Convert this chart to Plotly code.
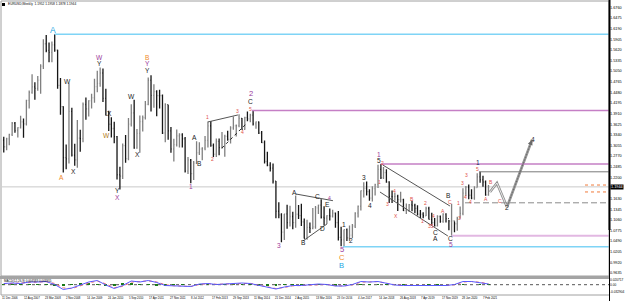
import plotly.graph_objects as go
import pandas as pd

# ---------------------------------------------------------------- data
bar_months = pd.date_range("2006-12-01", "2021-04-01", freq="MS")
first_open = 1.3270
high = [
    1.3367,
    1.3290, 1.3260, 1.3372, 1.3682, 1.3683, 1.3541, 1.3853, 1.3780, 1.4281, 1.4527, 1.4967, 1.4752,
    1.4920, 1.5237, 1.5904, 1.6019, 1.5818, 1.5844, 1.6038, 1.5626, 1.4867, 1.4110, 1.3080, 1.4720,
    1.4070, 1.3100, 1.3738, 1.3480, 1.4210, 1.4340, 1.4270, 1.4445, 1.4845, 1.5060, 1.5145, 1.5120,
    1.4580, 1.3990, 1.3815, 1.3690, 1.3310, 1.2485, 1.3110, 1.3335, 1.3790, 1.4160, 1.4280, 1.3500,
    1.3860, 1.3860, 1.4250, 1.4880, 1.4940, 1.4700, 1.4540, 1.4550, 1.4420, 1.4190, 1.4150, 1.3550,
    1.3235, 1.3485, 1.3385, 1.3385, 1.3285, 1.2745, 1.2690, 1.2640, 1.3170, 1.3140, 1.3010, 1.3310,
    1.3700, 1.3710, 1.3110, 1.3240, 1.3240, 1.3415, 1.3345, 1.3450, 1.3570, 1.3830, 1.3620, 1.3895,
    1.3790, 1.3825, 1.3967, 1.3905, 1.3993, 1.3700, 1.3700, 1.3445, 1.3190, 1.2885, 1.2605, 1.2570,
    1.2100, 1.1535, 1.1240, 1.1215, 1.1465, 1.1435, 1.1280, 1.1715, 1.1460, 1.1495, 1.1095, 1.1060,
    1.0990, 1.1375, 1.1430, 1.1465, 1.1615, 1.1425, 1.1185, 1.1365, 1.1330, 1.1255, 1.1300, 1.0875,
    1.0800, 1.0830, 1.0905, 1.0950, 1.1265, 1.1445, 1.1845, 1.2070, 1.2090, 1.1880, 1.1960, 1.2025,
    1.2535, 1.2555, 1.2475, 1.2415, 1.2095, 1.1850, 1.1790, 1.1735, 1.1815, 1.1625, 1.1500, 1.1485,
    1.1570, 1.1490, 1.1450, 1.1325, 1.1265, 1.1410, 1.1410, 1.1250, 1.1110, 1.1180, 1.1175, 1.1240,
    1.1240, 1.1055, 1.1495, 1.1015, 1.1145, 1.1420, 1.1910, 1.1965, 1.2010, 1.1880, 1.1960, 1.2310,
    1.2349, 1.2245, 1.2115, 1.1995,
]
low = [
    1.3100,
    1.2866, 1.2928, 1.3060, 1.3310, 1.3398, 1.3268, 1.3509, 1.3262, 1.3592, 1.4050, 1.4445, 1.4284,
    1.4525, 1.4440, 1.5110, 1.5555, 1.5285, 1.5287, 1.5570, 1.4580, 1.3880, 1.2330, 1.2420, 1.2570,
    1.2760, 1.2510, 1.2457, 1.2885, 1.3140, 1.3745, 1.3830, 1.4045, 1.4200, 1.4480, 1.4630, 1.4220,
    1.3860, 1.3445, 1.3270, 1.3115, 1.2145, 1.1876, 1.2155, 1.2590, 1.2660, 1.3565, 1.2970, 1.2970,
    1.2860, 1.3430, 1.3750, 1.4135, 1.3970, 1.4070, 1.3840, 1.4050, 1.3360, 1.3145, 1.3210, 1.2860,
    1.2625, 1.3030, 1.3000, 1.3000, 1.2330, 1.2290, 1.2042, 1.2130, 1.2560, 1.2800, 1.2660, 1.2925,
    1.3000, 1.3020, 1.2745, 1.2745, 1.2795, 1.2970, 1.2755, 1.3185, 1.3105, 1.3480, 1.3295, 1.3545,
    1.3475, 1.3475, 1.3705, 1.3675, 1.3590, 1.3505, 1.3365, 1.3120, 1.2570, 1.2500, 1.2360, 1.2035,
    1.1100, 1.1100, 1.0462, 1.0520, 1.0820, 1.0880, 1.0810, 1.0850, 1.1085, 1.0895, 1.0560, 1.0525,
    1.0710, 1.0810, 1.0820, 1.1215, 1.1095, 1.0910, 1.0950, 1.1045, 1.1120, 1.0850, 1.0505, 1.0350,
    1.0340, 1.0495, 1.0495, 1.0570, 1.0840, 1.1120, 1.1310, 1.1660, 1.1715, 1.1575, 1.1555, 1.1715,
    1.1915, 1.2155, 1.2155, 1.2055, 1.1510, 1.1510, 1.1575, 1.1300, 1.1525, 1.1300, 1.1215, 1.1270,
    1.1290, 1.1235, 1.1175, 1.1110, 1.1105, 1.1160, 1.1070, 1.0925, 1.0880, 1.0880, 1.0980, 1.0980,
    1.0990, 1.0780, 1.0636, 1.0725, 1.0765, 1.1095, 1.1185, 1.1695, 1.1610, 1.1610, 1.1600, 1.1925,
    1.2055, 1.1950, 1.1705, 1.1705,
]
close = [
    1.3199,
    1.3021, 1.3232, 1.3354, 1.3651, 1.3452, 1.3532, 1.3690, 1.3637, 1.4264, 1.4482, 1.4628, 1.4588,
    1.4810, 1.5183, 1.5785, 1.5608, 1.5552, 1.5753, 1.5615, 1.4669, 1.4097, 1.2730, 1.2695, 1.3970,
    1.2795, 1.2670, 1.3250, 1.3240, 1.4155, 1.4035, 1.4255, 1.4335, 1.4635, 1.4720, 1.5000, 1.4320,
    1.3865, 1.3625, 1.3510, 1.3295, 1.2270, 1.2235, 1.3050, 1.2705, 1.3630, 1.3930, 1.2985, 1.3380,
    1.3695, 1.3800, 1.4160, 1.4805, 1.4400, 1.4500, 1.4390, 1.4390, 1.3390, 1.4150, 1.3445, 1.2960,
    1.3080, 1.3315, 1.3340, 1.3235, 1.2365, 1.2665, 1.2300, 1.2580, 1.2860, 1.2960, 1.2985, 1.3190,
    1.3580, 1.3060, 1.2820, 1.3165, 1.2995, 1.3010, 1.3300, 1.3220, 1.3525, 1.3585, 1.3590, 1.3780,
    1.3485, 1.3805, 1.3770, 1.3870, 1.3635, 1.3690, 1.3390, 1.3130, 1.2630, 1.2525, 1.2450, 1.2100,
    1.1290, 1.1195, 1.0730, 1.1220, 1.0985, 1.1150, 1.0985, 1.1210, 1.1175, 1.1005, 1.0565, 1.0860,
    1.0830, 1.0870, 1.1380, 1.1455, 1.1130, 1.1105, 1.1175, 1.1160, 1.1240, 1.0985, 1.0590, 1.0520,
    1.0795, 1.0575, 1.0650, 1.0895, 1.1240, 1.1425, 1.1840, 1.1905, 1.1815, 1.1645, 1.1900, 1.2005,
    1.2415, 1.2195, 1.2325, 1.2075, 1.1690, 1.1685, 1.1690, 1.1600, 1.1605, 1.1310, 1.1315, 1.1465,
    1.1445, 1.1370, 1.1215, 1.1215, 1.1170, 1.1370, 1.1075, 1.0985, 1.0900, 1.1150, 1.1020, 1.1215,
    1.1090, 1.1025, 1.1030, 1.0955, 1.1100, 1.1235, 1.1775, 1.1935, 1.1720, 1.1645, 1.1925, 1.2215,
    1.2135, 1.2075, 1.1730, 1.1944,
]
last_price = 1.1944
title_text = "EURUSD,Weekly  1.1952 1.1958 1.1878 1.1944"

price_ticks = [1.6760, 1.6475, 1.6190, 1.5905, 1.5620, 1.5335, 1.5050, 1.4765, 1.4480,
               1.4195, 1.3910, 1.3625, 1.3340, 1.3055, 1.2770, 1.2485, 1.2200, 1.1915,
               1.1630, 1.1345, 1.1060, 1.0775, 1.0490, 1.0205, 0.9920, 0.9635]

date_labels = ["11 Dec 2006", "12 Aug 2007", "23 Mar 2008", "2 Nov 2008", "14 Jun 2009",
               "24 Jan 2010", "5 Sep 2010", "17 Apr 2011", "27 Nov 2011", "8 Jul 2012",
               "17 Feb 2013", "29 Sep 2013", "11 May 2014", "21 Dec 2014", "2 Aug 2015",
               "13 Mar 2016", "23 Oct 2016", "4 Jun 2017", "14 Jan 2018", "26 Aug 2018",
               "7 Apr 2019", "17 Nov 2019", "28 Jun 2020", "7 Feb 2021"]

# indicator (quarterly readings)
ind_dates = pd.date_range("2007-01-01", periods=58, freq="3MS") + pd.Timedelta(days=14)
ind_main = [0.0056, 0.0080, 0.0056, 0.0127, 0.0127, 0.0150, 0.0009, -0.0226, -0.0155, -0.0014,
            0.0127, 0.0197, -0.0014, -0.0179, -0.0038, 0.0174, 0.0127, 0.0197, 0.0103, -0.0038,
            -0.0061, -0.0085, -0.0085, 0.0033, 0.0056, 0.0009, 0.0033, 0.0080, 0.0080, 0.0056,
            -0.0038, -0.0132, -0.0202, -0.0108, -0.0038, -0.0038, -0.0014, 0.0033, 0.0009, -0.0061,
            -0.0061, 0.0009, 0.0150, 0.0127, 0.0150, 0.0056, -0.0014, -0.0038, -0.0038, -0.0038,
            -0.0061, -0.0038, -0.0038, 0.0009, 0.0150, 0.0150, 0.0103, 0.0033]
ind_signal = [0.0040, 0.0065, 0.0068, 0.0095, 0.0120, 0.0140, 0.0060, -0.0150, -0.0185, -0.0060,
              0.0080, 0.0170, 0.0040, -0.0140, -0.0080, 0.0120, 0.0140, 0.0180, 0.0130, 0.0000,
              -0.0050, -0.0075, -0.0085, 0.0010, 0.0045, 0.0020, 0.0030, 0.0065, 0.0078, 0.0062,
              -0.0020, -0.0110, -0.0180, -0.0130, -0.0055, -0.0040, -0.0020, 0.0020, 0.0012, -0.0045,
              -0.0060, -0.0010, 0.0120, 0.0130, 0.0145, 0.0070, 0.0000, -0.0030, -0.0038, -0.0038,
              -0.0055, -0.0042, -0.0038, -0.0005, 0.0125, 0.0150, 0.0115, 0.0045]
ind_hist = [0.0016, 0.0015, -0.0012, 0.0032, 0.0007, 0.0010, -0.0051, -0.0076, 0.0030, 0.0046,
            0.0047, 0.0027, -0.0054, -0.0039, 0.0042, 0.0054, -0.0013, 0.0017, -0.0027, -0.0038,
            -0.0011, -0.0010, 0.0000, 0.0023, 0.0011, -0.0011, 0.0003, 0.0015, 0.0002, -0.0006,
            -0.0018, -0.0022, -0.0022, 0.0022, 0.0017, 0.0002, 0.0006, 0.0013, -0.0003, -0.0016,
            -0.0001, 0.0019, 0.0030, -0.0003, 0.0005, -0.0014, -0.0014, -0.0008, 0.0000, 0.0000,
            -0.0006, 0.0004, 0.0000, 0.0014, 0.0025, 0.0000, -0.0012, -0.0012]
ind_header = "MACD(12,26,9) 0.004583 0.003955"
ind_tick_vals = [0.0207, 0.0, -0.0329]
ind_tick_text = ["0.020717", "0.00", "-0.032904"]

# wave labels: text, date, price, colour key, size key
wave_text = ["A", "W", "Y", "B", "Y", "Y", "W", "W", "X", "W", "X", "A", "X", "Y", "X",
             "A", "1", "B", "2", "1", "3", "4", "2", "C", "5",
             "3", "A", "B", "C", "D", "E", "4", "1", "2", "5", "C", "B",
             "3", "4", "1", "5", "1", "3", "4", "X", "2",
             "B", "2", "1", "4", "35", "C", "A", "A", "B", "C", "1", "3", "C", "5",
             "4", "4", "3", "3", "1", "5", "A", "B", "C", "2", "4"]
wave_date = ["2008-06-30", "2009-11-13", "2009-11-13", "2011-04-12", "2011-04-12", "2011-04-12",
             "2008-12-04", "2010-10-22", "2010-02-28", "2010-01-27", "2010-12-26", "2008-10-01",
             "2009-02-07", "2010-05-20", "2010-05-20",
             "2012-08-29", "2012-07-17", "2012-10-21", "2013-03-09", "2013-01-15", "2013-12-03",
             "2014-01-26", "2014-04-22", "2014-04-22", "2014-04-22",
             "2015-02-16", "2015-08-07", "2015-11-12", "2016-04-10", "2016-06-03", "2016-07-27",
             "2016-08-07", "2017-01-15", "2017-03-31", "2016-12-24", "2016-12-24", "2016-12-24",
             "2017-08-17", "2017-10-21", "2018-01-26", "2018-01-26", "2018-02-05", "2018-05-02",
             "2018-07-16", "2018-07-27", "2018-03-06",
             "2019-01-11", "2019-06-11", "2019-05-10", "2019-08-31", "2019-08-04", "2019-09-20",
             "2019-09-20", "2019-12-14", "2020-02-15", "2020-02-26", "2020-05-23", "2020-06-13",
             "2020-03-08", "2020-03-08",
             "2020-08-06", "2020-10-09", "2020-08-17", "2020-07-12", "2020-12-20", "2020-12-20",
             "2021-03-19", "2021-05-12", "2021-08-17", "2021-10-31", "2022-08-06"]
wave_price = [1.6153, 1.5429, 1.5255, 1.5429, 1.5255, 1.5080, 1.4785, 1.4356, 1.3926, 1.3336,
              1.2800, 1.2191, 1.2370, 1.1834, 1.1654,
              1.3256, 1.1968, 1.2572, 1.2692, 1.3819, 1.3980, 1.3417, 1.4450, 1.4230, 1.4040,
              1.0366, 1.1788, 1.0447, 1.1681, 1.0841, 1.1485, 1.1654, 1.0948, 1.0519, 1.0270,
              1.0055, 0.9845,
              1.2191, 1.1458, 1.2818, 1.2647, 1.2083, 1.1485, 1.1834, 1.1171, 1.2577,
              1.1611, 1.1504, 1.1037, 1.1163, 1.0905, 1.0712, 1.0555, 1.1297, 1.1726, 1.1539,
              1.1512, 1.1117, 1.0565, 1.0398,
              1.1673, 1.1531, 1.2263, 1.2043, 1.2593, 1.2424, 1.1611, 1.2067, 1.1565, 1.1391,
              1.3229]
wave_col = ["cy", "pu", "bk", "or", "pu", "bk", "bk", "bk", "bk", "do", "bk", "or", "bk", "bk", "pu",
            "bk", "pu", "bk", "rd", "rd", "rd", "rd", "pu", "bk", "rd",
            "pu", "bk", "bk", "bk", "bk", "bk", "pu", "bk", "bk", "pu", "or", "cy",
            "bk", "bk", "pu", "bk", "rd", "rd", "rd", "rd", "rd",
            "rd", "rd", "rd", "rd", "rd", "bk", "bk", "rd", "bk", "rd", "rd", "rd", "bk", "pu",
            "rd", "rd", "rd", "rd", "nv", "rd", "rd", "rd", "rd", "bk", "bk"]
wave_size = ["L", "M", "M", "M", "M", "M", "M", "M", "M", "M", "M", "M", "M", "M", "M",
             "M", "M", "M", "S", "S", "S", "S", "B", "M", "S",
             "M", "M", "M", "M", "M", "M", "S", "M", "M", "B", "B", "B",
             "M", "M", "M", "M", "S", "S", "S", "S", "S",
             "S", "S", "S", "S", "S", "M", "M", "S", "M", "S", "S", "S", "M", "M",
             "S", "S", "S", "S", "M", "S", "S", "S", "S", "M", "M"]

# horizontal level lines: start date, price, style key
level_start = ["2008-07-14", "2014-05-05", "2017-01-02", "2018-02-12", "2021-01-04", "2020-03-16", "2020-08-06"]
level_price = [1.6038, 1.3993, 1.0340, 1.2555, 1.2349, 1.0636, 1.1517]
level_style = ["cyan", "purple", "cyan", "purple", "grey", "lilac", "dash"]

# trend lines: start date, start price, end date, end price, style key
tl_d0 = ["2013-01-15", "2013-06-14", "2015-08-18", "2015-11-01", "2018-03-06", "2018-02-05"]
tl_p0 = [1.3686, 1.2987, 1.1753, 1.0493, 1.2534, 1.1807]
tl_d1 = ["2013-12-03", "2014-03-10", "2016-09-18", "2016-07-16", "2020-02-26", "2020-02-04"]
tl_p1 = [1.3874, 1.3658, 1.1574, 1.0949, 1.1432, 1.0626]
tl_style = ["solid", "dot", "solid", "solid", "solid", "solid"]

# projected path
proj_dates = ["2021-05-01", "2021-07-15", "2021-10-31", "2022-07-26"]
proj_price = [1.1807, 1.2048, 1.1405, 1.3202]

ask_levels = [1.1994, 1.1808]

# ---------------------------------------------------------------- layout helpers
W, H = 625, 301
FONT = "Liberation Sans, Arial, sans-serif"
T0 = pd.Timestamp("2006-12-11")
PX_PER_WEEK = 0.652
X_L, X_R = 2, 609
MAIN_T, MAIN_B = 2, 276
IND_T, IND_B = 279, 295
P_REF, Y_REF, P_PER_PX = 1.6038, 34.3, 0.002683
ZERO_Y, IND_PER_PX = 284.7, 0.0047


def px_date(px):
    return T0 + pd.Timedelta(days=(px - 0.5) / PX_PER_WEEK * 7)


def date_px(d):
    return 0.5 + (pd.Timestamp(d) - T0).days / 7 * PX_PER_WEEK


def fx(px):
    return px / W


def fy(py):
    return 1 - py / H


x_start, x_end = px_date(X_L), px_date(X_R)
y_lo = P_REF - (MAIN_B - Y_REF) * P_PER_PX
y_hi = P_REF + (Y_REF - MAIN_T) * P_PER_PX
i_hi = (ZERO_Y - IND_T) * IND_PER_PX
i_lo = -(IND_B - ZERO_Y) * IND_PER_PX

COL = {"cy": "#22a6e3", "pu": "#9b3a9b", "bk": "#1c1c1c", "or": "#ef8a2a",
       "do": "#b07a20", "rd": "#e0524a", "nv": "#23285e"}
SIZE = {"L": 8.5, "B": 7.6, "M": 6.6, "S": 5.0}
LEVEL = {"cyan": dict(color="#7fd4f6", width=1.5), "purple": dict(color="#c57fc5", width=1.5),
         "grey": dict(color="#7a7a7a", width=1), "lilac": dict(color="#e2b8e2", width=2),
         "dash": dict(color="#8a8a8a", width=1, dash="6px,3px")}

opens = [first_open] + close[:-1]
bar_x = bar_months + pd.Timedelta(days=14)

fig = go.Figure()
fig.add_trace(go.Ohlc(
    x=bar_x, open=opens, high=high, low=low, close=close,
    increasing=dict(line=dict(color="#808080", width=1.3)),
    decreasing=dict(line=dict(color="#161616", width=1.3)),
    tickwidth=0.3, xaxis="x", yaxis="y", hoverinfo="skip"))

# projection path
fig.add_trace(go.Scatter(x=proj_dates, y=proj_price, mode="lines",
                         line=dict(color="#8f8f8f", width=2.6), xaxis="x", yaxis="y",
                         hoverinfo="skip"))
fig.add_trace(go.Scatter(x=proj_dates, y=proj_price, mode="lines",
                         line=dict(color="#e8e8e8", width=1), xaxis="x", yaxis="y",
                         hoverinfo="skip"))

# indicator
fig.add_trace(go.Bar(x=ind_dates, y=ind_hist, marker=dict(color="#1a7a1a", line=dict(width=0)),
                     width=1000 * 3600 * 24 * 30, xaxis="x2", yaxis="y2", hoverinfo="skip"))
fig.add_trace(go.Scatter(x=ind_dates, y=ind_signal, mode="lines",
                         line=dict(color="#f07070", width=1, dash="dot"),
                         xaxis="x2", yaxis="y2", hoverinfo="skip"))
fig.add_trace(go.Scatter(x=ind_dates, y=ind_main, mode="lines",
                         line=dict(color="#5a5aff", width=1),
                         xaxis="x2", yaxis="y2", hoverinfo="skip"))

shapes = []
shapes.append(dict(type="line", xref="x", yref="y", x0=x_start, x1=x_end, y0=last_price, y1=last_price,
                   line=dict(color="#c9c9c9", width=1), layer="below"))
for d, p, s in zip(level_start, level_price, level_style):
    shapes.append(dict(type="line", xref="x", yref="y", x0=d, x1=x_end, y0=p, y1=p, line=LEVEL[s]))
for d0, p0, d1, p1, s in zip(tl_d0, tl_p0, tl_d1, tl_p1, tl_style):
    ln = dict(color="#555555", width=1) if s == "solid" else dict(color="#222222", width=1, dash="dot")
    shapes.append(dict(type="line", xref="x", yref="y", x0=d0, x1=d1, y0=p0, y1=p1, line=ln))
for p in ask_levels:
    shapes.append(dict(type="line", xref="x", yref="y", x0=px_date(585), x1=x_end, y0=p, y1=p,
                       line=dict(color="#f07a3a", width=1, dash="dot")))
shapes.append(dict(type="line", xref="x2", yref="y2", x0=x_start, x1=x_end, y0=0, y1=0,
                   line=dict(color="#555555", width=1, dash="dot"), layer="below"))
shapes.append(dict(type="rect", xref="paper", yref="paper", x0=fx(1), x1=fx(X_R), y0=fy(MAIN_B), y1=fy(1),
                   line=dict(color="#a0a0a0", width=1)))
shapes.append(dict(type="rect", xref="paper", yref="paper", x0=fx(0), x1=fx(X_R + 1), y0=fy(IND_T),
                   y1=fy(MAIN_B), fillcolor="#a4a4a4", line=dict(width=0)))
shapes.append(dict(type="line", xref="paper", yref="paper", x0=fx(1), x1=fx(X_R), y0=fy(IND_B), y1=fy(IND_B),
                   line=dict(color="#a0a0a0", width=1)))
shapes.append(dict(type="line", xref="paper", yref="paper", x0=fx(1), x1=fx(1), y0=fy(IND_B), y1=fy(IND_T),
                   line=dict(color="#a0a0a0", width=1)))
shapes.append(dict(type="line", xref="paper", yref="paper", x0=fx(X_R + 0.5), x1=fx(X_R + 0.5), y0=0, y1=1,
                   line=dict(color="#000000", width=1)))
shapes.append(dict(type="line", xref="paper", yref="paper", x0=fx(X_R + 0.5), x1=fx(X_R + 0.5), y0=fy(230), y1=1,
                   line=dict(color="#000000", width=2)))
shapes.append(dict(type="rect", xref="paper", yref="paper", x0=fx(2), x1=fx(5), y0=fy(6), y1=fy(3),
                   fillcolor="#000000", line=dict(width=0)))

ann = []
for t, d, p, c, s in zip(wave_text, wave_date, wave_price, wave_col, wave_size):
    ann.append(dict(x=d, y=p, xref="x", yref="y", text=t, showarrow=False, borderpad=0,
                    font=dict(family=FONT, size=SIZE[s], color=COL[c]), xanchor="center", yanchor="middle"))
ann.append(dict(x=proj_dates[-1], y=proj_price[-1], ax=proj_dates[-2], ay=proj_price[-2],
                xref="x", yref="y", axref="x", ayref="y", text="", showarrow=True,
                arrowhead=2, arrowsize=1, arrowwidth=1, arrowcolor="#6a6a6a", standoff=0))
for lab in date_labels:
    ann.append(dict(x=fx(date_px(lab)), y=fy(298), xref="paper", yref="paper", text=lab, showarrow=False,
                    borderpad=0, font=dict(family=FONT, size=2.8, color="#000000"),
                    xanchor="left", yanchor="middle"))
ann.append(dict(x=fx(7), y=fy(4.2), xref="paper", yref="paper", text=title_text, showarrow=False,
                borderpad=0, font=dict(family=FONT, size=3.2, color="#000000"), xanchor="left", yanchor="middle"))
ann.append(dict(x=fx(3), y=fy(281), xref="paper", yref="paper", text=ind_header, showarrow=False,
                borderpad=0, font=dict(family=FONT, size=3.0, color="#000000"), xanchor="left", yanchor="middle"))
ann.append(dict(x=fx(X_R + 1), y=last_price, xref="paper", yref="y", text=f"{last_price:.4f}",
                showarrow=False, bgcolor="#000000", borderpad=0,
                font=dict(family=FONT, size=3.8, color="#ffffff"), xanchor="left", yanchor="middle"))

fig.update_layout(
    width=W, height=H, autosize=False, margin=dict(l=0, r=0, t=0, b=0),
    paper_bgcolor="#ffffff", plot_bgcolor="#ffffff", showlegend=False, bargap=0,
    font=dict(family=FONT, color="#000000"),
    xaxis=dict(domain=[fx(X_L), fx(X_R)], range=[x_start, x_end], type="date", anchor="y",
               showticklabels=False, showgrid=False, zeroline=False, showline=False, ticks="",
               rangeslider=dict(visible=False), fixedrange=True),
    yaxis=dict(domain=[fy(MAIN_B), fy(MAIN_T)], range=[y_lo, y_hi], side="right", anchor="x",
               tickvals=price_ticks, ticktext=[f"{v:.4f}" for v in price_ticks],
               tickfont=dict(family=FONT, size=3.8, color="#000000"), ticks="", showgrid=False,
               zeroline=False, showline=False, automargin=False),
    xaxis2=dict(domain=[fx(X_L), fx(X_R)], range=[x_start, x_end], type="date", anchor="y2",
                matches="x", showticklabels=False, showgrid=False, zeroline=False, ticks="",
                rangeslider=dict(visible=False)),
    yaxis2=dict(domain=[fy(IND_B), fy(IND_T)], range=[i_lo, i_hi], side="right", anchor="x2",
                tickvals=ind_tick_vals, ticktext=ind_tick_text,
                tickfont=dict(family=FONT, size=3.2, color="#000000"), ticks="", showgrid=False,
                zeroline=False, showline=False, automargin=False),
    shapes=shapes, annotations=ann,
)

fig.write_html("out.html")
